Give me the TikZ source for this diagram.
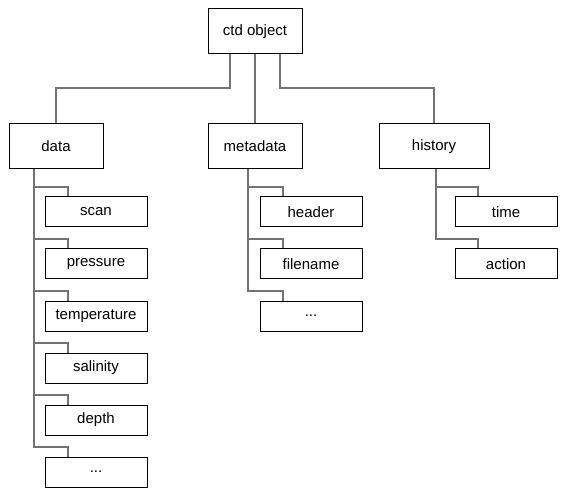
\documentclass[tikz,border=0pt]{standalone}
\usepackage{fontspec}
\setmainfont{Liberation Sans}
\begin{document}
\begin{tikzpicture}[x=1pt,y=-1pt,
  box/.style={draw=black,line width=1pt,fill=white,inner sep=0pt,font=\fontsize{15}{17}\selectfont},
  top/.style={box,minimum height=45pt},
  leaf/.style={box,minimum width=102pt,minimum height=30pt},
  conn/.style={draw=gray!90!black,line width=2pt}]
\useasboundingbox (0,0) rectangle (562,494);
% nodes
\node[top,minimum width=94pt] (root) at (255,31.5) {ctd object};
\node[top,minimum width=94pt] (data) at (56,146.5) {data};
\node[top,minimum width=94pt] (meta) at (255,146.5) {metadata};
\node[top,minimum width=110pt] (hist) at (434,146.5) {history};
\node[leaf] (scan) at (96,212) {scan};
\node[leaf] (pres) at (96,264) {pressure};
\node[leaf] (temp) at (96,316) {temperature};
\node[leaf] (sal) at (96,368) {salinity};
\node[leaf] (dep) at (96,420) {depth};
\node[leaf] (ddots) at (96,472) {...};
\node[leaf] (head) at (311,212) {header};
\node[leaf] (file) at (311,264) {filename};
\node[leaf] (mdots) at (311,316) {...};
\node[leaf] (time) at (506,212) {time};
\node[leaf] (act) at (506,264) {action};
% trunk start points
\coordinate (dt) at (33.5,169);
\coordinate (mt) at (247.5,169);
\coordinate (ht) at (436,169);
% top connectors
\draw[conn] ([xshift=-25pt]root.south) -- ++(0,34) -| (data.north);
\draw[conn] (root.south) -- (meta.north);
\draw[conn] ([xshift=25pt]root.south) -- ++(0,34) -| ([xshift=-0.5pt]hist.north);
% child connectors
\foreach \c in {scan,pres,temp,sal,dep,ddots}{
  \draw[conn] (dt) |- ([xshift=23pt,yshift=9.5pt]\c.north west) -- ([xshift=23pt]\c.north west);
}
\foreach \c in {head,file,mdots}{
  \draw[conn] (mt) |- ([xshift=23pt,yshift=9.5pt]\c.north west) -- ([xshift=23pt]\c.north west);
}
\foreach \c in {time,act}{
  \draw[conn] (ht) |- ([xshift=23pt,yshift=9.5pt]\c.north west) -- ([xshift=23pt]\c.north west);
}
\end{tikzpicture}
\end{document}
